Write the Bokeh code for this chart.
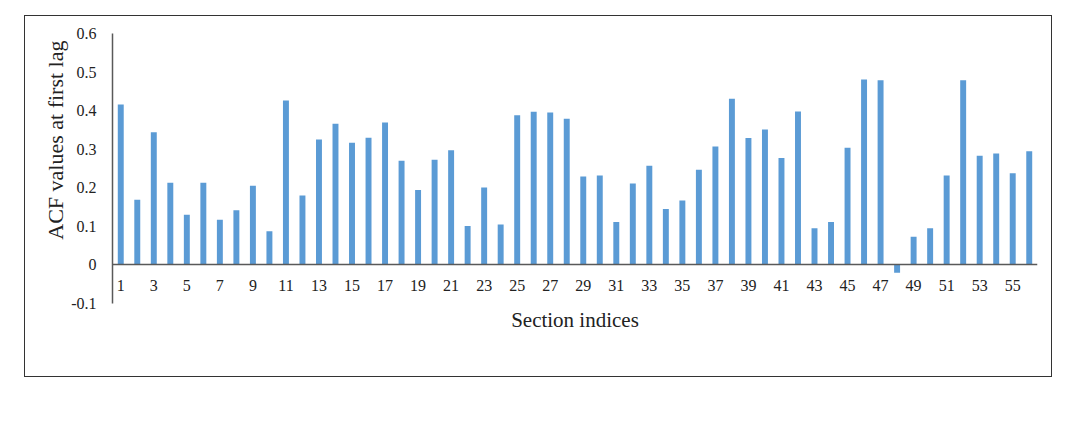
from bokeh.plotting import figure
from bokeh.models import (Range1d, FixedTicker, NumeralTickFormatter, ColumnDataSource,
                          LinearAxis, Spacer, Title)
from bokeh.layouts import column, row
from bokeh.embed import file_html
from bokeh.resources import INLINE

sections = list(range(1, 57))
acf = [0.416, 0.169, 0.344, 0.213, 0.130, 0.213, 0.117, 0.142, 0.205, 0.087,
       0.426, 0.180, 0.325, 0.366, 0.317, 0.330, 0.369, 0.270, 0.194, 0.273,
       0.297, 0.101, 0.201, 0.105, 0.388, 0.397, 0.395, 0.379, 0.229, 0.232,
       0.111, 0.211, 0.257, 0.145, 0.167, 0.247, 0.307, 0.431, 0.329, 0.351,
       0.277, 0.398, 0.095, 0.111, 0.304, 0.481, 0.479, -0.020, 0.073, 0.095,
       0.232, 0.479, 0.283, 0.289, 0.238, 0.295]
x_ticks = list(range(1, 57, 2))
y_ticks = [-0.1, 0, 0.1, 0.2, 0.3, 0.4, 0.5, 0.6]
x_title = "Section indices"
y_title = "ACF values at first lag"

FONT = "Liberation Serif"
TXT = "#222222"
AXC = "#595959"

src = ColumnDataSource(dict(x=sections, top=acf))

p = figure(width=1028, height=362, output_backend="svg", toolbar_location=None,
           x_range=Range1d(0.5, 56.5), y_range=Range1d(-0.1, 0.6),
           min_border_left=87, min_border_right=16, min_border_top=17, min_border_bottom=75,
           styles={"border": "1.5px solid #333333", "box-sizing": "border-box"})
p.outline_line_color = None
p.xgrid.visible = False
p.ygrid.visible = False
p.background_fill_color = "white"
p.border_fill_color = "white"

p.vbar(x="x", top="top", bottom=0, width=0.36, source=src,
       fill_color="#5B9BD5", line_color=None)

# label-only axis directly under the frame
la = p.xaxis[0]
la.ticker = FixedTicker(ticks=[])
la.axis_line_color = None
la.major_tick_line_color = None
la.minor_tick_line_color = None
la.axis_label = x_title
la.axis_label_text_font = FONT
la.axis_label_text_font_size = "21px"
la.axis_label_text_font_style = "normal"
la.axis_label_text_color = TXT
la.axis_label_standoff = 4

# axis drawn at y = 0
xa = LinearAxis(fixed_location=0)
xa.ticker = FixedTicker(ticks=x_ticks)
xa.major_tick_line_color = None
xa.minor_tick_line_color = None
xa.axis_line_color = AXC
xa.axis_line_width = 1.5
xa.major_label_standoff = 9
xa.major_label_text_font = FONT
xa.major_label_text_font_size = "16px"
xa.major_label_text_color = TXT
p.add_layout(xa, "below")

ya = p.yaxis[0]
ya.ticker = FixedTicker(ticks=y_ticks)
ya.formatter = NumeralTickFormatter(format="0.[0]")
ya.major_tick_line_color = None
ya.minor_tick_line_color = None
ya.axis_line_color = AXC
ya.axis_line_width = 1.5
ya.major_label_standoff = 10
ya.major_label_text_font = FONT
ya.major_label_text_font_size = "16px"
ya.major_label_text_color = TXT

# y title as a left-side title, hung from the top of the frame
p.add_layout(Title(text=y_title, align="right", offset=7, standoff=2,
                   text_font=FONT, text_font_size="22px", text_font_style="normal",
                   text_color=TXT), "left")

layout = column(Spacer(height=15), row(Spacer(width=24), p))
open("out.html", "w").write(file_html(layout, INLINE))
